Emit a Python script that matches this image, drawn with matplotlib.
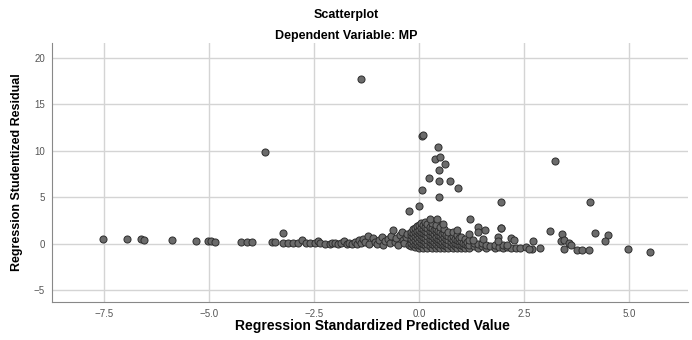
import matplotlib.pyplot as plt

# points: outliers and the left tail
tail_x = [-7.53, -6.95, -6.63, -6.55, -5.89, -5.32, -5.03, -4.96, -4.86,
          -4.24, -4.10, -3.97, -3.49, -3.43, -3.25, -3.67, -1.38]
tail_y = [0.54, 0.47, 0.47, 0.40, 0.36, 0.32, 0.26, 0.26, 0.22,
          0.18, 0.18, 0.18, 0.18, 0.15, 1.15, 9.86, 17.7]

mid_x = [-3.23, -3.11, -2.99, -2.87, -2.79, -2.69, -2.60, -2.48, -2.40, -2.36,
         -2.24, -2.12, -2.08, -2.00, -1.92, -1.85, -1.79, -1.72, -1.66, -1.60,
         -1.53, -1.48, -1.44, -1.38, -1.33, -1.28, -1.22, -1.18, -1.10, -1.05,
         -1.00, -0.95, -0.89, -0.85, -0.80, -0.75, -0.70, -0.66, -0.61, -0.58,
         -0.55, -0.50, -0.46, -0.41, -0.38, -0.35, -0.32, -0.28, -0.25, -0.24]
mid_y = [0.05, 0.11, 0.06, 0.10, 0.36, 0.08, 0.02, 0.10, 0.30, 0.05,
         0.00, -0.02, 0.04, 0.05, -0.05, 0.10, 0.32, -0.03, 0.12, 0.00,
         0.20, -0.08, 0.40, 0.05, 0.54, 0.15, 0.83, -0.05, 0.65, 0.20,
         0.00, 0.40, 0.75, -0.10, 0.30, 0.55, 0.05, 0.80, 1.50, 0.20,
         0.60, -0.10, 0.90, 1.22, 0.35, 0.05, 0.70, 1.00, -0.15, 3.50]

# high residuals near zero and the right side
high_x = [0.08, 0.09, 0.44, 0.39, 0.51, 0.63, 0.48, 0.23, 0.48, 0.73, 0.92,
          0.07, 0.47, 0.00, 1.21, 1.94, 1.94, 1.40, 1.56, 1.40, 0.26, 0.43,
          1.18, 0.91, 0.58, 1.29, 1.52, 2.09, 1.88, 2.19, 2.26, 1.89, 1.95]
high_y = [11.6, 11.65, 10.4, 9.14, 9.36, 8.6, 7.9, 7.1, 6.75, 6.7, 5.95,
          5.77, 5.05, 4.09, 2.65, 4.48, 1.69, 1.83, 1.47, 1.29, 2.65, 2.65,
          1.08, 1.47, 2.10, 0.40, 0.47, -0.14, 0.72, 0.65, 0.43, 0.32, 1.72]

right_x = [3.23, 4.06, 3.11, 3.41, 4.18, 4.51, 2.71, 3.37, 3.45, 3.56, 3.63,
           4.43, 2.68, 2.88, 3.44, 3.75, 3.89, 4.05, 4.97, 5.50, 2.55, 2.63]
right_y = [8.93, 4.45, 1.37, 1.08, 1.18, 0.97, 0.32, 0.29, 0.36, 0.04, -0.14,
           0.32, -0.54, -0.50, -0.60, -0.68, -0.68, -0.64, -0.60, -0.86, -0.32, -0.54]

# dense core: predicted value column -> residuals in that column
core = [
    (-0.20, [-0.3, 0.1, 0.5, 0.9, 1.3]),
    (-0.15, [-0.1, 0.3, 0.7, 1.1, 1.6]),
    (-0.10, [-0.4, 0.0, 0.4, 0.8, 1.2, 1.7]),
    (-0.05, [-0.2, 0.2, 0.6, 1.0, 1.4, 1.9]),
    (0.00, [-0.5, -0.1, 0.3, 0.7, 1.1, 1.5, 2.0]),
    (0.05, [-0.3, 0.1, 0.5, 0.9, 1.3, 1.7, 2.2]),
    (0.10, [-0.45, 0.0, 0.35, 0.75, 1.15, 1.6, 2.0]),
    (0.15, [-0.2, 0.2, 0.6, 1.0, 1.4, 1.8, 2.3]),
    (0.20, [-0.5, -0.05, 0.4, 0.8, 1.2, 1.65, 2.1]),
    (0.25, [-0.3, 0.15, 0.55, 0.95, 1.35, 1.8]),
    (0.30, [-0.45, 0.0, 0.4, 0.8, 1.25, 1.7, 2.2]),
    (0.35, [-0.2, 0.2, 0.6, 1.05, 1.5]),
    (0.40, [-0.5, -0.05, 0.35, 0.75, 1.2, 1.6, 2.0]),
    (0.45, [-0.3, 0.15, 0.55, 0.95, 1.4]),
    (0.50, [-0.45, 0.0, 0.4, 0.8, 1.25, 1.75]),
    (0.55, [-0.2, 0.2, 0.6, 1.0]),
    (0.60, [-0.5, -0.1, 0.3, 0.7, 1.15, 1.6]),
    (0.65, [-0.3, 0.1, 0.5, 0.9]),
    (0.70, [-0.45, 0.0, 0.4, 0.85, 1.3]),
    (0.75, [-0.25, 0.2, 0.6]),
    (0.80, [-0.5, -0.05, 0.35, 0.8, 1.2]),
    (0.85, [-0.3, 0.1, 0.5]),
    (0.90, [-0.45, 0.0, 0.4, 0.9]),
    (0.95, [-0.2, 0.25, 0.6]),
    (1.00, [-0.5, -0.1, 0.3, 0.75]),
    (1.05, [-0.3, 0.1]),
    (1.10, [-0.45, 0.0, 0.45]),
    (1.15, [-0.2, 0.2]),
    (1.20, [-0.5, -0.1, 0.35]),
    (1.30, [-0.3, 0.1]),
    (1.40, [-0.45, -0.05]),
    (1.50, [-0.3, 0.1]),
    (1.60, [-0.45, -0.1]),
    (1.70, [-0.3]),
    (1.80, [-0.45, -0.1]),
    (1.90, [-0.35]),
    (2.00, [-0.45, -0.15]),
    (2.10, [-0.4]),
    (2.20, [-0.45]),
    (2.30, [-0.5]),
    (2.40, [-0.45]),
]

core_x = [cx for cx, ys in core for _ in ys]
core_y = [v for _, ys in core for v in ys]

xs = tail_x + mid_x + core_x + high_x + right_x
ys = tail_y + mid_y + core_y + high_y + right_y

plt.rcParams['font.family'] = ['Liberation Sans', 'DejaVu Sans']

fig = plt.figure(figsize=(6.92, 3.40), dpi=100)
ax = fig.add_axes([0.075, 0.112, 0.919, 0.762])

ax.scatter(xs, ys, s=26, facecolor='#6b6b6b', edgecolor='#2e2e2e',
           linewidth=0.7, zorder=3)

ax.set_xlim(-8.74, 6.4)
ax.set_ylim(-6.27, 21.6)
ax.set_xticks([-7.5, -5.0, -2.5, 0.0, 2.5, 5.0])
ax.set_yticks([-5, 0, 5, 10, 15, 20])
ax.grid(True, color='#d4d4d4', linewidth=1.0, zorder=0)
ax.set_axisbelow(True)

for side in ['top', 'right']:
    ax.spines[side].set_visible(False)
for side in ['left', 'bottom']:
    ax.spines[side].set_color('#888888')
ax.tick_params(length=0, labelsize=7, labelcolor='#555555', pad=5)

ax.set_ylabel('Regression Studentized Residual', fontsize=9,
              fontweight='bold', labelpad=8)
fig.text(0.5, 0.955, 'Scatterplot', ha='center', va='center',
         fontsize=9, fontweight='bold')
fig.text(0.5, 0.895, 'Dependent Variable: MP', ha='center', va='center',
         fontsize=9, fontweight='bold')
fig.text(0.538, 0.04, 'Regression Standardized Predicted Value', ha='center',
         va='center', fontsize=10, fontweight='bold')

fig.savefig('out.png', dpi=100, facecolor='white')
